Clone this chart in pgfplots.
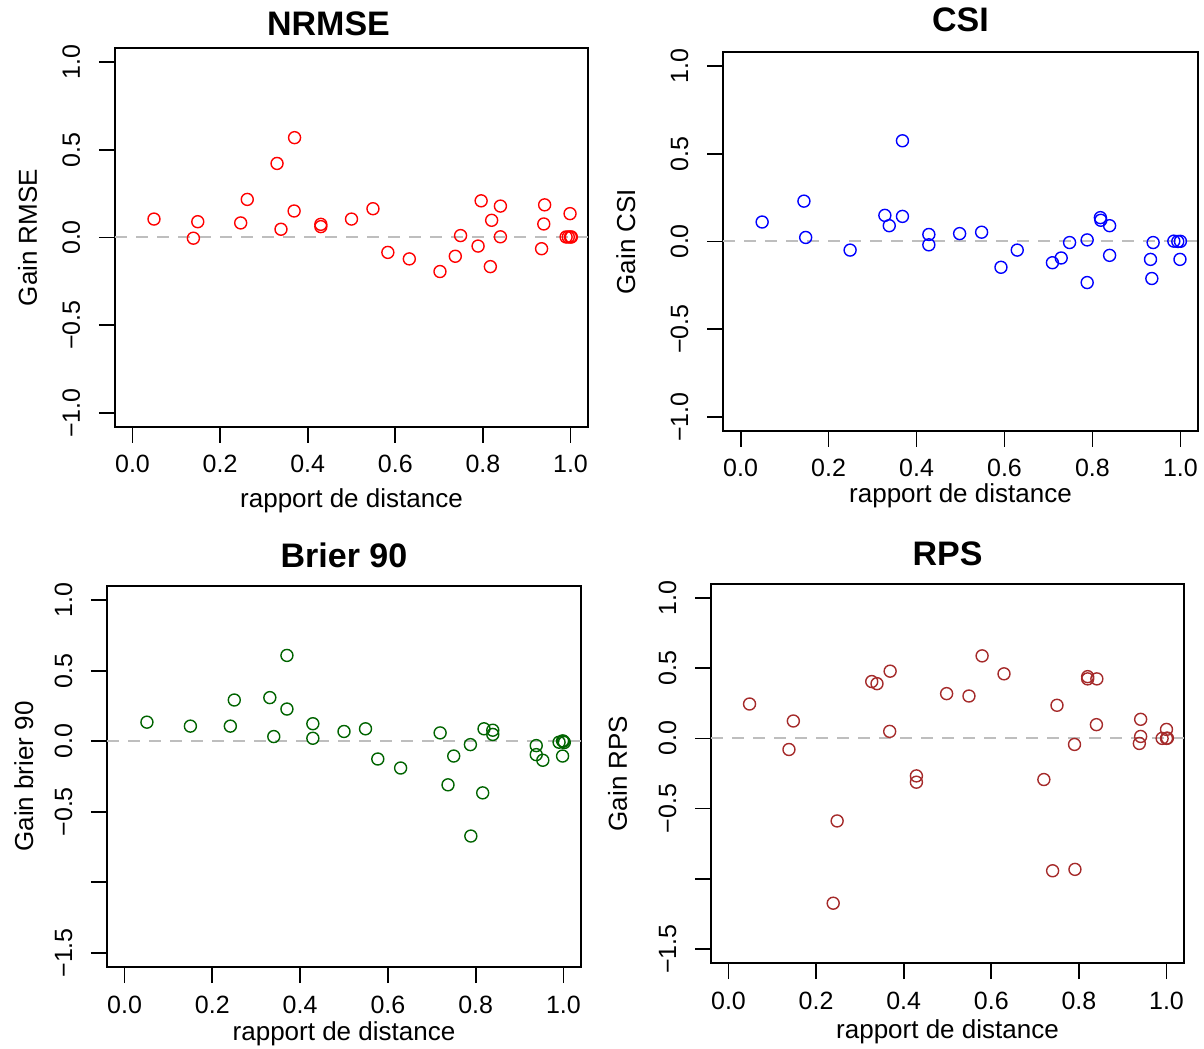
\documentclass[border=0pt]{standalone}
\usepackage{fontspec}
\setmainfont{Liberation Sans}
\usepackage{pgfplots}
\pgfplotsset{compat=1.18}
\definecolor{rred}{RGB}{255,0,0}
\definecolor{rblue}{RGB}{0,0,255}
\definecolor{rgreen}{RGB}{0,100,0}
\definecolor{rbrown}{RGB}{165,42,42}
\definecolor{rgray}{RGB}{190,190,190}
\pgfplotsset{
  rstyle/.style={
    scale only axis,
    anchor=south west,
    xmin=-0.04, xmax=1.04,
    axis line style={line width=1.8pt},
    every tick/.style={black, line width=1.8pt},
    tick align=outside,
    major tick length=16pt,
    tick pos=left,
    xtick={0,0.2,0.4,0.6,0.8,1},
    xticklabels={0.0,0.2,0.4,0.6,0.8,1.0},
    tick label style={font=\fontsize{25}{30}\selectfont},
    label style={font=\fontsize{26}{31}\selectfont},
    title style={font=\fontsize{34}{40}\selectfont\bfseries, anchor=base},
    xlabel={rapport de distance},
    yticklabel style={rotate=90, anchor=base},
    xticklabel style={anchor=base},
    xticklabel shift=30pt,
    yticklabel shift=19pt,
    clip=false,
  },
  pts/.style={only marks, mark=o, mark size=6pt, mark options={line width=1.4pt, color=#1}},
  zero/.style={rgray, line width=2pt, dash pattern=on 12pt off 9pt, forget plot},
}
\begin{document}
\begin{tikzpicture}
\fill[white] (0pt,0pt) rectangle (1204pt,1044pt);
% ---------------- NRMSE
\begin{axis}[rstyle, at={(115pt,617pt)}, width=473pt, height=379pt,
  ymin=-1.08, ymax=1.08,
  ytick={-1,-0.5,0,0.5,1}, yticklabels={−1.0,−0.5,0.0,0.5,1.0},
  ylabel={Gain RMSE},
  xlabel style={at={(rel axis cs:0.5,0)}, anchor=base, yshift=-81pt},
  ylabel style={at={(rel axis cs:-0.165,0.5)}, anchor=base},
  title={NRMSE}, title style={at={(0.5,1)}, yshift=6pt, xshift=-23pt}]
\addplot[zero] coordinates {(-0.04,0) (1.04,0)};
\addplot[pts=rred] coordinates {
(0.049,0.105) (0.139,-0.004) (0.149,0.090) (0.247,0.083) (0.262,0.217)
(0.330,0.422) (0.339,0.047) (0.370,0.569) (0.369,0.151) (0.430,0.075)
(0.430,0.062) (0.500,0.105) (0.549,0.164) (0.583,-0.085) (0.632,-0.122)
(0.702,-0.194) (0.737,-0.107) (0.749,0.011) (0.789,-0.049) (0.796,0.209)
(0.817,-0.166) (0.820,0.098) (0.840,0.179) (0.840,0.004) (0.934,-0.064)
(0.939,0.077) (0.941,0.186) (0.999,0.136) (0.990,0.003) (0.995,0.003)
(1.000,0.003) (1.002,0.003)
};
\end{axis}
% ---------------- CSI
\begin{axis}[rstyle, at={(723pt,613pt)}, width=475pt, height=379pt,
  ymin=-1.08, ymax=1.08,
  ytick={-1,-0.5,0,0.5,1}, yticklabels={−1.0,−0.5,0.0,0.5,1.0},
  ylabel={Gain CSI},
  xlabel style={at={(rel axis cs:0.5,0)}, anchor=base, yshift=-72pt},
  ylabel style={at={(rel axis cs:-0.185,0.5)}, anchor=base},
  title={CSI}, title style={at={(0.5,1)}, yshift=14pt}]
\addplot[zero] coordinates {(-0.04,0) (1.04,0)};
\addplot[pts=rblue] coordinates {
(0.049,0.111) (0.144,0.230) (0.148,0.023) (0.249,-0.049) (0.328,0.149)
(0.338,0.090) (0.368,0.574) (0.368,0.143) (0.428,0.040) (0.428,-0.019)
(0.498,0.045) (0.548,0.053) (0.592,-0.147) (0.629,-0.049) (0.709,-0.121)
(0.729,-0.094) (0.748,-0.006) (0.788,0.009) (0.788,-0.234) (0.818,0.136)
(0.819,0.121) (0.839,0.090) (0.839,-0.079) (0.932,-0.102) (0.935,-0.211)
(0.938,-0.006) (0.985,0.002) (0.994,0.0) (1.000,0.001) (0.999,-0.102)
};
\end{axis}
% ---------------- Brier 90
\begin{axis}[rstyle, at={(107pt,77pt)}, width=474pt, height=381pt,
  ymin=-1.6, ymax=1.1,
  ytick={-1.5,-1,-0.5,0,0.5,1}, yticklabels={−1.5,,−0.5,0.0,0.5,1.0},
  ylabel={Gain brier 90},
  xlabel style={at={(rel axis cs:0.5,0)}, anchor=base, yshift=-73pt},
  ylabel style={at={(rel axis cs:-0.156,0.5)}, anchor=base},
  title={Brier 90}, title style={at={(0.5,1)}, yshift=12pt}]
\addplot[zero] coordinates {(-0.04,0) (1.04,0)};
\addplot[pts=rgreen] coordinates {
(0.051,0.135) (0.150,0.107) (0.241,0.107) (0.250,0.292) (0.331,0.309)
(0.340,0.033) (0.370,0.608) (0.370,0.228) (0.429,0.124) (0.429,0.021)
(0.500,0.069) (0.549,0.088) (0.577,-0.126) (0.629,-0.190) (0.719,0.059)
(0.737,-0.309) (0.750,-0.105) (0.788,-0.024) (0.789,-0.672) (0.816,-0.366)
(0.819,0.088) (0.839,0.078) (0.839,0.048) (0.938,-0.031) (0.938,-0.095)
(0.953,-0.135) (0.998,-0.105) (0.990,-0.007) (0.998,0.002) (1.000,0.000)
(1.002,-0.009)
};
\end{axis}
% ---------------- RPS
\begin{axis}[rstyle, at={(711pt,81pt)}, width=473pt, height=379pt,
  ymin=-1.6, ymax=1.1,
  ytick={-1.5,-1,-0.5,0,0.5,1}, yticklabels={−1.5,,−0.5,0.0,0.5,1.0},
  ylabel={Gain RPS},
  xlabel style={at={(rel axis cs:0.5,0)}, anchor=base, yshift=-75pt},
  ylabel style={at={(rel axis cs:-0.178,0.5)}, anchor=base},
  title={RPS}, title style={at={(0.5,1)}, yshift=12pt}]
\addplot[zero] coordinates {(-0.04,0) (1.04,0)};
\addplot[pts=rbrown] coordinates {
(0.048,0.245) (0.148,0.124) (0.138,-0.079) (0.239,-1.174) (0.248,-0.588)
(0.327,0.405) (0.339,0.390) (0.369,0.479) (0.368,0.050) (0.429,-0.267)
(0.429,-0.312) (0.498,0.319) (0.549,0.302) (0.579,0.588) (0.629,0.460)
(0.720,-0.293) (0.740,-0.943) (0.750,0.236) (0.790,-0.043) (0.791,-0.933)
(0.820,0.440) (0.820,0.424) (0.841,0.424) (0.840,0.098) (0.941,0.136)
(0.941,0.014) (0.938,-0.036) (1.000,0.064) (0.990,0.000) (1.000,0.000)
(1.002,0.002)
};
\end{axis}
\end{tikzpicture}
\end{document}
